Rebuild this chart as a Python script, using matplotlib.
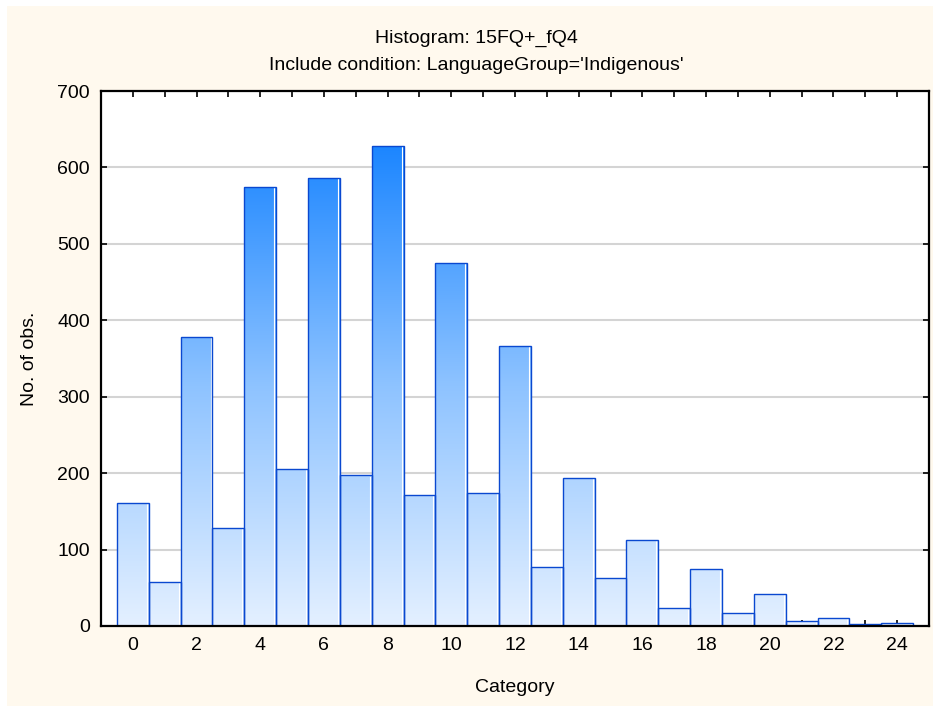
import matplotlib.pyplot as plt
import numpy as np
from matplotlib.colors import LinearSegmentedColormap

plt.rcParams['font.family'] = ['Liberation Sans', 'DejaVu Sans']

# bin centres and counts
categories = list(range(25))
counts = [161, 58, 378, 128, 574, 205, 586, 197, 628, 171, 475, 174, 367,
          77, 194, 63, 113, 23, 74, 17, 42, 7, 11, 2, 4]
x_ticks = list(range(0, 25, 2))
y_ticks = [0, 100, 200, 300, 400, 500, 600, 700]

title1 = 'Histogram: 15FQ+_fQ4'
title2 = "Include condition: LanguageGroup='Indigenous'"

W, H = 933, 706
fs = 14

fig = plt.figure(figsize=(W / 100, H / 100), dpi=100)
fig.patch.set_facecolor('white')
# cream panel with thin white margin top/left
fig.patches.append(plt.Rectangle((7 / W, 0), 1, 1 - 6 / H, transform=fig.transFigure,
                                 facecolor='#FFF9EE', edgecolor='none', zorder=-10))

ax = fig.add_axes([101 / W, 1 - 626 / H, 828 / W, 535 / H])
ax.set_facecolor('white')

cmap = LinearSegmentedColormap.from_list('blu', ['#E4F0FF', '#8EC3FF', '#1C86FF'])
grad = np.linspace(0, 1, 256).reshape(-1, 1)
vmax = max(counts)

bars = ax.bar(categories, counts, width=1.0, facecolor='none',
              edgecolor='#0A48D0', linewidth=1.0, zorder=3)
for b in bars:
    x0 = b.get_x()
    h = b.get_height()
    im = ax.imshow(grad, extent=(x0, x0 + 1, 0, vmax), origin='lower', cmap=cmap,
                   aspect='auto', zorder=2, interpolation='bilinear')
    im.set_clip_path(b)
    # white highlight just inside the right edge
    ax.plot([x0 + 0.94, x0 + 0.94], [0, h - 1.5], color='white', lw=0.8, zorder=2.5)

ax.set_xlim(-1, 25)
ax.set_ylim(0, 700)
ax.set_xticks(categories, minor=True)
ax.set_xticks(x_ticks)
ax.set_yticks(y_ticks)
ax.yaxis.grid(True, color='#D4D4D4', lw=1.5, zorder=0)
ax.set_axisbelow(True)
ax.tick_params(direction='in', top=True, right=True, length=4, width=1.2,
               labelsize=fs)
ax.tick_params(axis='x', pad=8)
ax.tick_params(axis='y', pad=8)
ax.tick_params(which='minor', direction='in', top=True, length=4, width=1.2)
for s in ax.spines.values():
    s.set_linewidth(1.6)
    s.set_zorder(5)

fig.text(476 / W, 1 - 38 / H, title1, ha='center', va='center', fontsize=fs)
fig.text(476 / W, 1 - 66 / H, title2, ha='center', va='center', fontsize=fs)
fig.text(515 / W, 1 - 687 / H, 'Category', ha='center', va='center', fontsize=fs)
fig.text(30 / W, 1 - 359 / H, 'No. of obs.', ha='center', va='center',
         rotation=90, fontsize=fs)

fig.savefig('out.png', dpi=100, facecolor=fig.get_facecolor())
